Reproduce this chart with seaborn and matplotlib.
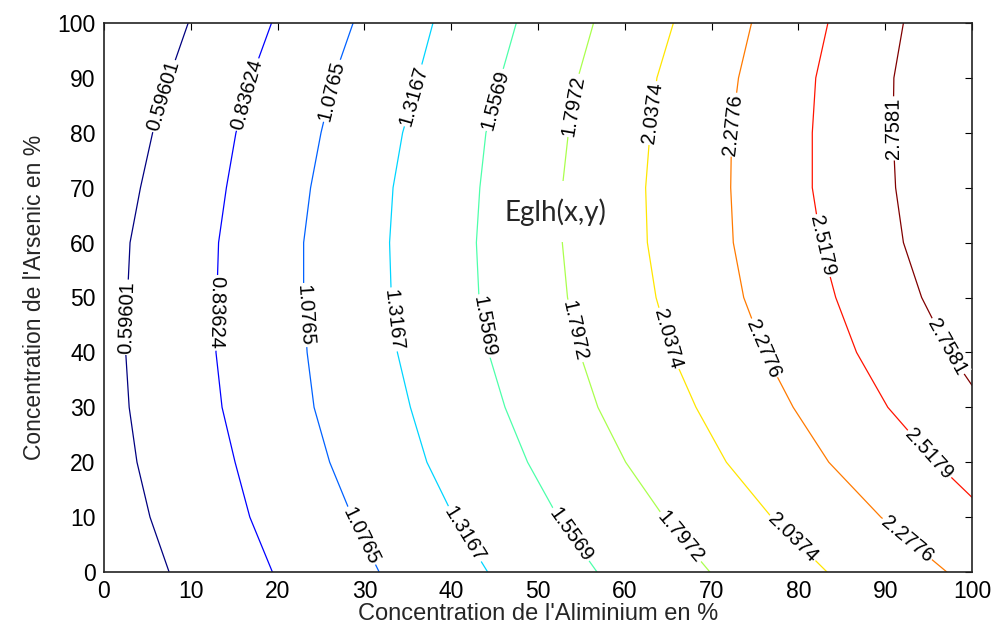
import numpy as np
import pandas as pd
import matplotlib
matplotlib.use("Agg")
import matplotlib.pyplot as plt
import seaborn as sns

# ---------------- data ----------------
level_labels = ["0.59601", "0.83624", "1.0765", "1.3167", "1.5569",
                "1.7972", "2.0374", "2.2776", "2.5179", "2.7581"]

y_grid = [100, 90, 80, 70, 60, 50, 40, 30, 20, 10, 0]
x_059601 = [9.7, 7.5, 5.6, 4.2, 3.0, 2.7, 2.5, 2.9, 3.8, 5.3, 7.5]
x_083624 = [19.3, 17.0, 15.2, 14.1, 13.2, 13.0, 12.9, 13.6, 15.1, 16.8, 19.4]
x_10765 = [28.7, 26.5, 25.0, 23.8, 23.0, 23.0, 23.4, 24.2, 26.0, 28.6, 31.7]
x_13167 = [37.9, 36.2, 34.4, 33.3, 32.9, 33.1, 33.8, 35.3, 37.2, 40.3, 44.2]
x_15569 = [47.5, 45.7, 44.0, 43.3, 42.9, 43.2, 44.3, 46.2, 48.8, 52.3, 56.8]
x_17972 = [56.4, 54.6, 53.5, 52.8, 52.8, 53.4, 54.8, 56.9, 60.1, 64.5, 69.8]
x_20374 = [65.6, 63.7, 62.9, 62.4, 62.6, 63.6, 65.4, 68.2, 71.7, 76.9, 83.3]
x_22776 = [74.6, 73.1, 72.3, 72.2, 72.5, 73.7, 76.1, 79.4, 83.5, 89.5, 97.1]
x_25179 = [83.4, 82.0, 81.6, 81.6, 82.6, 84.3, 86.7, 90.3, 95.8, 100.0]
y_25179 = [100, 90, 80, 70, 60, 50, 40, 30, 20, 13.6]
x_27581 = [92.1, 91.0, 90.9, 91.2, 92.1, 94.2, 97.4, 100.0]
y_27581 = [100, 90, 80, 70, 60, 50, 40, 34.0]

line_x = [x_059601, x_083624, x_10765, x_13167, x_15569,
          x_17972, x_20374, x_22776, x_25179, x_27581]
line_y = [y_grid] * 8 + [y_25179, y_27581]

# inline contour labels: level index, height along the line, reading direction
label_level = [0, 0, 1, 1, 2, 2, 2, 3, 3, 3, 4, 4, 4, 5, 5, 5, 6, 6, 6, 7, 7, 7, 8, 8, 9, 9]
label_y = [86.7, 46.4, 87.0, 47.2, 87.7, 46.8, 6.6, 86.8, 46.0, 6.9, 86.0, 44.8, 6.8,
           85.0, 43.9, 6.4, 83.6, 42.5, 6.2, 81.5, 40.7, 6.0, 59.4, 21.4, 80.8, 41.0]
label_dir = ["up", "up", "up", "down", "up", "down", "down", "up", "down", "down",
             "up", "down", "down", "up", "down", "down", "up", "down", "down",
             "up", "down", "down", "down", "down", "up", "down"]

x_ticks = [0, 10, 20, 30, 40, 50, 60, 70, 80, 90, 100]
y_ticks = [0, 10, 20, 30, 40, 50, 60, 70, 80, 90, 100]

# ---------------- build long table ----------------
rows = []
for lab, xs, ys in zip(level_labels, line_x, line_y):
    for i, (xv, yv) in enumerate(zip(xs, ys)):
        rows.append({"level": lab, "order": i, "x": xv, "y": yv})
df = pd.DataFrame(rows)

colors = matplotlib.colormaps["jet"](np.linspace(0, 1, len(level_labels)))
palette = {lab: colors[i] for i, lab in enumerate(level_labels)}

# ---------------- plot ----------------
sns.set_style("white")
plt.rcParams["font.family"] = ["Liberation Sans", "DejaVu Sans"]

fig = plt.figure(figsize=(9.95, 6.26), dpi=100)
ax = fig.add_axes([104 / 995, 54 / 626, 868 / 995, 549 / 626])

sns.lineplot(data=df, x="x", y="y", hue="level", palette=palette,
             hue_order=level_labels, sort=False, estimator=None,
             linewidth=0.9, legend=False, ax=ax)

ax.set_xlim(0, 100)
ax.set_ylim(0, 100)
ax.set_xticks(x_ticks)
ax.set_yticks(y_ticks)
ax.tick_params(direction="in", top=True, right=True, length=5, width=0.8,
               labelsize=16.5, colors="black", pad=6)
for s in ax.spines.values():
    s.set_linewidth(1.2)
    s.set_color("#222222")

ax.set_xlabel("Concentration de l'Aliminium en %", fontsize=17, labelpad=0)
ax.set_ylabel("Concentration de l'Arsenic en %", fontsize=16.5, labelpad=8)

# contour labels placed on the lines
for li, yc, d in zip(label_level, label_y, label_dir):
    xs = np.array(line_x[li], dtype=float)[::-1]
    ys = np.array(line_y[li], dtype=float)[::-1]
    xc = np.interp(yc, ys, xs)
    y0, y1 = max(yc - 2.5, ys.min()), min(yc + 2.5, ys.max())
    p0 = ax.transData.transform((np.interp(y0, ys, xs), y0))
    p1 = ax.transData.transform((np.interp(y1, ys, xs), y1))
    ang = np.degrees(np.arctan2(p1[1] - p0[1], p1[0] - p0[0]))
    if d == "down":
        ang -= 180
    ax.text(xc, yc, level_labels[li], rotation=ang, rotation_mode="anchor",
            ha="center", va="center", fontsize=14.5, color="black",
            bbox=dict(facecolor="white", edgecolor="none", pad=1.0), zorder=4)

ax.text(52.0, 65.6, "Eglh(x,y)", fontsize=20, family=["Lato", "DejaVu Sans"],
        ha="center", va="center", zorder=5,
        bbox=dict(facecolor="white", edgecolor="none", pad=12))

fig.savefig("out.png", dpi=100)
